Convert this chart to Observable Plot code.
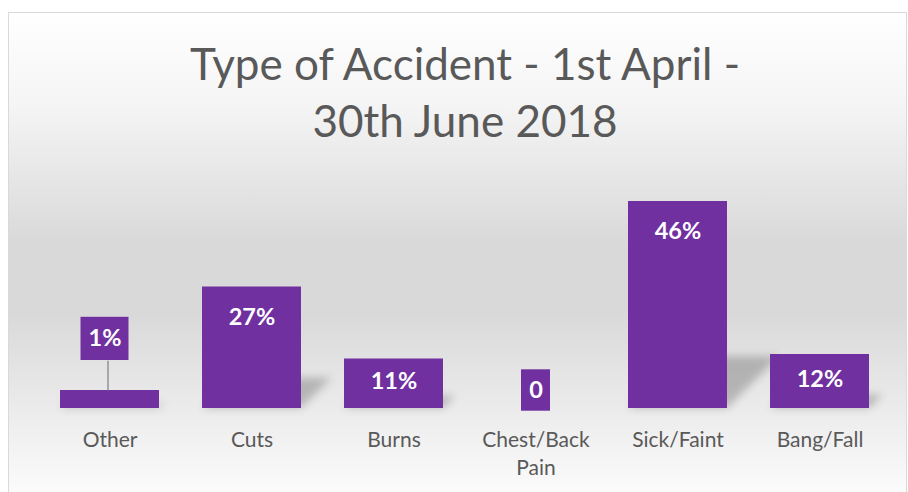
<!DOCTYPE html>
<html>
<head>
<meta charset="utf-8">
<script src="https://cdn.jsdelivr.net/npm/d3@7"></script>
<script src="https://cdn.jsdelivr.net/npm/@observablehq/plot@0.6"></script>
<style>
  html, body { margin: 0; padding: 0; background: #ffffff; }
  #wrap { position: relative; width: 908px; height: 492px; overflow: hidden; }
  #frame { position: absolute; left: 8px; top: 12px; width: 897px; height: 500px;
    border: 1px solid #d9d9d9;
    background: linear-gradient(to bottom, #ffffff 0%, #f5f5f5 18%, #d9d9d9 46%, #d9d9d9 60%, #ffffff 100%); }
  #title { position: absolute; left: 0; width: 930px; top: 35px; text-align: center;
    font-family: Lato, "Open Sans", sans-serif; font-size: 44px; line-height: 57px; color: #595959; }
  #chart { position: absolute; left: 0; top: 0; }
</style>
</head>
<body>
<div id="wrap">
  <div id="frame"></div>
  <div id="chart"></div>
  <div id="title">Type of Accident - 1st April -<br>30th June 2018</div>
</div>
<script>
const categories = ["Other", "Cuts", "Burns", "Chest/Back\nPain", "Sick/Faint", "Bang/Fall"];
const values = [4, 27, 11, 0, 46, 12];
const labels = ["1%", "27%", "11%", "0", "46%", "12%"];

const data = categories.map((c, i) => ({cat: c, value: values[i], label: labels[i]}));
const inside = data.filter(d => d.value >= 10);
const otherLab = data.filter(d => d.cat === "Other");
const zeroLab = data.filter(d => d.value === 0);

const purple = "#7030A0";
const font = "Lato, 'Open Sans', sans-serif";

const plot = Plot.plot({
  width: 908,
  height: 492,
  marginLeft: 38,
  marginRight: 16,
  marginTop: 183,
  marginBottom: 84,
  style: {background: "transparent", fontFamily: font},
  x: {domain: categories, paddingInner: 0.3, paddingOuter: 0.15, label: null},
  y: {domain: [0, 50], axis: null},
  marks: [
    Plot.barY(data, {x: "cat", y: "value", fill: "#000", fillOpacity: 0.22}),
    Plot.barY(data, {x: "cat", y: "value", fill: purple}),
    Plot.axisX({tickSize: 0, tickPadding: 19, fontSize: 21, lineHeight: 1.33, fill: "#595959", label: null}),
    // inside-end labels (centred in short bars)
    Plot.text(inside, {x: "cat", y: d => Math.max(d.value - 6.67, d.value / 2 + 0.4), text: "label", fill: "#ffffff", fontSize: 23.5, fontWeight: "bold", lineAnchor: "middle"}),
    // "Other" label box with leader line
    Plot.link(otherLab, {x1: "cat", x2: "cat", y1: "value", y2: d => d.value + 6.6, stroke: "#7f7f7f", strokeWidth: 1.2, dx: -2}),
    Plot.rect(otherLab, {x: "cat", y1: d => d.value + 4, y2: d => d.value + 13.6, fill: purple, insetLeft: 25.5, insetRight: 25.5, dx: -5, dy: -12}),
    Plot.text(otherLab, {x: "cat", y: d => d.value + 8.8, text: "label", dx: -5, dy: -12, fill: "#ffffff", fontSize: 23.5, fontWeight: "bold", lineAnchor: "middle"}),
    // zero label box
    Plot.rect(zeroLab, {x: "cat", y1: d => d.value - 0.6, y2: d => d.value + 8.6, fill: purple, insetLeft: 35, insetRight: 35}),
    Plot.text(zeroLab, {x: "cat", y: d => d.value + 4, text: "label", fill: "#ffffff", fontSize: 23.5, fontWeight: "bold", lineAnchor: "middle"})
  ]
});

// perspective shadow for bars
const ns = "http://www.w3.org/2000/svg";
const defs = document.createElementNS(ns, "defs");
defs.innerHTML = '<filter id="shblur" x="-50%" y="-50%" width="200%" height="200%"><feGaussianBlur stdDeviation="4.5"/></filter>';
plot.insertBefore(defs, plot.firstChild);
const barGroups = plot.querySelectorAll('g[aria-label="bar"]');
const shadowG = barGroups[0];
const base = plot.scale("y").apply(0);
const outer = document.createElementNS(ns, "g");
outer.setAttribute("filter", "url(#shblur)");
const inner = document.createElementNS(ns, "g");
inner.setAttribute("transform", `translate(0,${base}) skewX(-45) scale(1,0.25) translate(0,${-base})`);
shadowG.parentNode.insertBefore(outer, shadowG);
outer.appendChild(inner);
inner.appendChild(shadowG);

document.getElementById("chart").appendChild(plot);
</script>
</body>
</html>
